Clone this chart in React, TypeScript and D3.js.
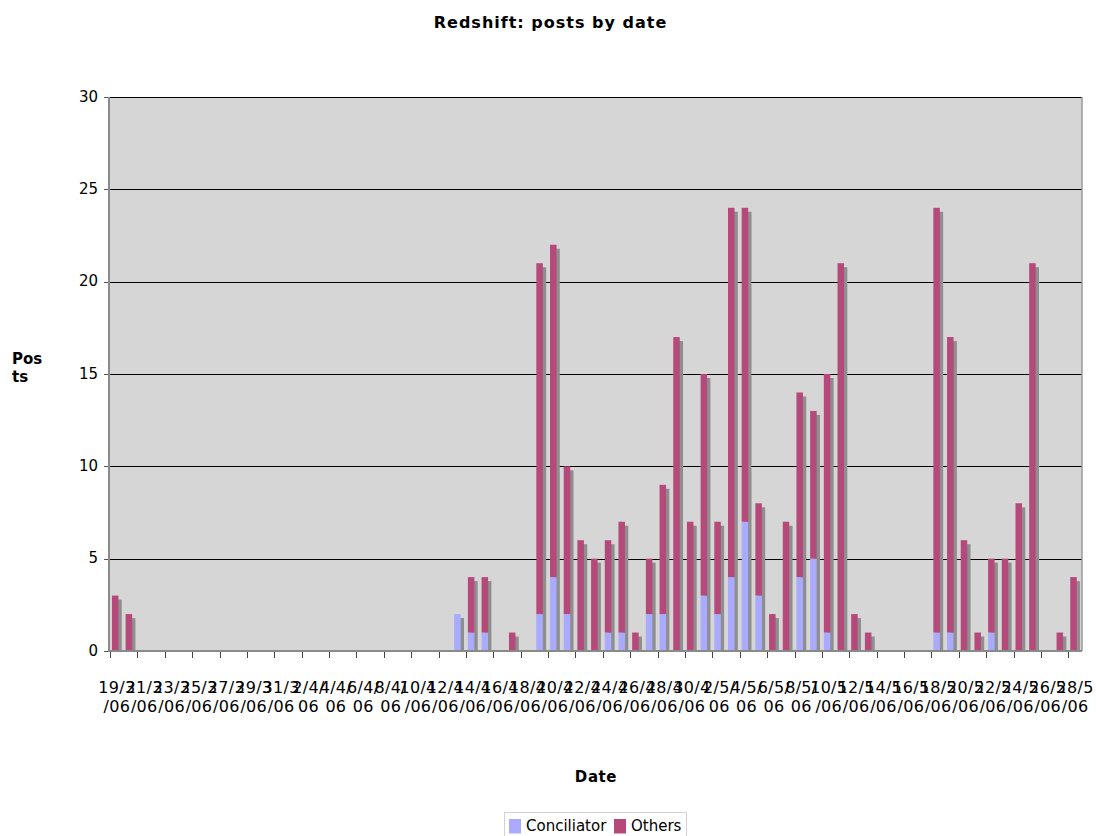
import React from "react";
import * as d3 from "d3";

// Daily categories, 19 March – 28 May 2006
const dates: string[] = [
  "19/3/06", "20/3/06", "21/3/06", "22/3/06", "23/3/06", "24/3/06", "25/3/06",
  "26/3/06", "27/3/06", "28/3/06", "29/3/06", "30/3/06", "31/3/06",
  "1/4/06", "2/4/06", "3/4/06", "4/4/06", "5/4/06", "6/4/06", "7/4/06", "8/4/06",
  "9/4/06", "10/4/06", "11/4/06", "12/4/06", "13/4/06", "14/4/06", "15/4/06",
  "16/4/06", "17/4/06", "18/4/06", "19/4/06", "20/4/06", "21/4/06", "22/4/06",
  "23/4/06", "24/4/06", "25/4/06", "26/4/06", "27/4/06", "28/4/06", "29/4/06",
  "30/4/06",
  "1/5/06", "2/5/06", "3/5/06", "4/5/06", "5/5/06", "6/5/06", "7/5/06", "8/5/06",
  "9/5/06", "10/5/06", "11/5/06", "12/5/06", "13/5/06", "14/5/06", "15/5/06",
  "16/5/06", "17/5/06", "18/5/06", "19/5/06", "20/5/06", "21/5/06", "22/5/06",
  "23/5/06", "24/5/06", "25/5/06", "26/5/06", "27/5/06", "28/5/06",
];

// Posts per day by the Conciliator
const conciliator: number[] = [
  0, 0, 0, 0, 0, 0, 0, 0, 0, 0, 0, 0, 0,
  0, 0, 0, 0, 0, 0, 0, 0, 0, 0, 0, 0, 2, 1, 1, 0, 0, 0, 2, 4, 2, 0,
  0, 1, 1, 0, 2, 2, 0, 0,
  3, 2, 4, 7, 3, 0, 0, 4, 5, 1, 0, 0, 0, 0, 0, 0, 0, 1, 1, 0, 0, 1,
  0, 0, 0, 0, 0, 0,
];

// Posts per day by everybody else
const others: number[] = [
  3, 2, 0, 0, 0, 0, 0, 0, 0, 0, 0, 0, 0,
  0, 0, 0, 0, 0, 0, 0, 0, 0, 0, 0, 0, 0, 3, 3, 0, 1, 0, 19, 18, 8, 6,
  5, 5, 6, 1, 3, 7, 17, 7,
  12, 5, 20, 17, 5, 2, 7, 10, 8, 14, 21, 2, 1, 0, 0, 0, 0, 23, 16, 6, 1, 4,
  5, 8, 21, 0, 1, 4,
];

const yTicks: number[] = [0, 5, 10, 15, 20, 25, 30];

const seriesNames = ["Conciliator", "Others"];
const seriesColors = ["#aaaaff", "#b5497a"];

const W = 1101;
const H = 836;
const plot = { left: 110, right: 1082, top: 97, bottom: 651 };
const FONT = "'DejaVu Sans', Verdana, sans-serif";

export default function App() {
  const x = d3.scaleBand<string>().domain(dates).range([plot.left, plot.right]);
  const y = d3.scaleLinear().domain([0, 30]).range([plot.bottom, plot.top]);

  const bw = 6.5;
  const shadowDx = 3.3;
  const shadowDy = 4;
  const barOffset = (x.bandwidth() - (bw + shadowDx)) / 2;

  const stacked = d3
    .stack<number>()
    .keys(["0", "1"])
    .value((i, key) => (key === "0" ? conciliator[i] : others[i]))(dates.map((_, i) => i));

  const totals = dates.map((_, i) => conciliator[i] + others[i]);

  return (
    <svg
      width={W}
      height={H}
      style={{ position: "absolute", left: 0, top: 0, background: "#fff" }}
      fontFamily={FONT}
    >
      {/* title */}
      <text x={W / 2} y={28} textAnchor="middle" fontSize={16} fontWeight="bold" letterSpacing={1}>
        Redshift: posts by date
      </text>

      {/* plot background */}
      <rect
        x={plot.left}
        y={plot.top}
        width={plot.right - plot.left}
        height={plot.bottom - plot.top}
        fill="#d6d6d6"
      />

      {/* gridlines */}
      {yTicks
        .filter((t) => t > 0)
        .map((t) => (
          <line
            key={"g" + t}
            x1={plot.left}
            x2={plot.right}
            y1={Math.round(y(t)) + 0.5}
            y2={Math.round(y(t)) + 0.5}
            stroke="#000"
            strokeWidth={1.2}
          />
        ))}

      {/* right border */}
      <line x1={plot.right} x2={plot.right} y1={plot.top} y2={plot.bottom} stroke="#9a9a9a" strokeWidth={1.5} />

      {/* bar shadows */}
      {dates.map((d, i) =>
        totals[i] > 0 ? (
          <rect
            key={"s" + d}
            x={(x(d) as number) + barOffset + shadowDx}
            y={y(totals[i]) + shadowDy}
            width={bw}
            height={y(0) - y(totals[i]) - shadowDy}
            fill="#8e8e8e"
          />
        ) : null
      )}

      {/* stacked bars */}
      {stacked.map((layer, s) =>
        layer.map((seg, i) =>
          seg[1] - seg[0] > 0 ? (
            <rect
              key={s + "-" + i}
              x={(x(dates[i]) as number) + barOffset}
              y={y(seg[1])}
              width={bw}
              height={y(seg[0]) - y(seg[1])}
              fill={seriesColors[s]}
            />
          ) : null
        )
      )}

      {/* axes lines */}
      <line x1={plot.left - 1} x2={plot.left - 1} y1={plot.top} y2={plot.bottom + 1} stroke="#8a8a8a" strokeWidth={2} />
      <line x1={plot.left - 2} x2={plot.right} y1={plot.bottom} y2={plot.bottom} stroke="#8a8a8a" strokeWidth={2} />

      {/* y ticks and labels */}
      {yTicks.map((t) => (
        <g key={"y" + t}>
          <line
            x1={plot.left - 6}
            x2={plot.left - 2}
            y1={Math.round(y(t)) + 0.5}
            y2={Math.round(y(t)) + 0.5}
            stroke="#555"
          />
          <text x={98} y={y(t) + 4.5} textAnchor="end" fontSize={15}>
            {t}
          </text>
        </g>
      ))}

      {/* x ticks and labels, every second day (labels wrap after four characters) */}
      {dates.map((d, i) =>
        i % 2 === 0 ? (
          <g key={"x" + d}>
            <line
              x1={Math.round(x(d) as number) + 0.5}
              x2={Math.round(x(d) as number) + 0.5}
              y1={plot.bottom + 1}
              y2={plot.bottom + 7}
              stroke="#444"
            />
            <text
              x={(x(d) as number) + x.bandwidth() / 2}
              y={693}
              textAnchor="middle"
              fontSize={16}
              letterSpacing={0.3}
            >
              <tspan x={(x(d) as number) + x.bandwidth() / 2}>{d.slice(0, 4)}</tspan>
              <tspan x={(x(d) as number) + x.bandwidth() / 2} dy={18.5}>
                {d.slice(4)}
              </tspan>
            </text>
          </g>
        ) : null
      )}

      {/* axis titles */}
      <text x={12} y={364} fontSize={15} fontWeight="bold">
        <tspan x={12}>Pos</tspan>
        <tspan x={12} dy={17.5}>ts</tspan>
      </text>
      <text x={(plot.left + plot.right) / 2} y={781.5} textAnchor="middle" fontSize={15} fontWeight="bold" letterSpacing={0.6}>
        Date
      </text>

      {/* legend */}
      <rect x={504.5} y={812.5} width={182} height={30} fill="#fff" stroke="#d2d2d2" />
      {seriesNames.map((name, s) => {
        const lx = s === 0 ? 509 : 614;
        return (
          <g key={name}>
            <rect x={lx} y={819} width={12} height={14.5} fill={seriesColors[s]} />
            <text x={lx + 17} y={831} fontSize={15}>
              {name}
            </text>
          </g>
        );
      })}
    </svg>
  );
}
